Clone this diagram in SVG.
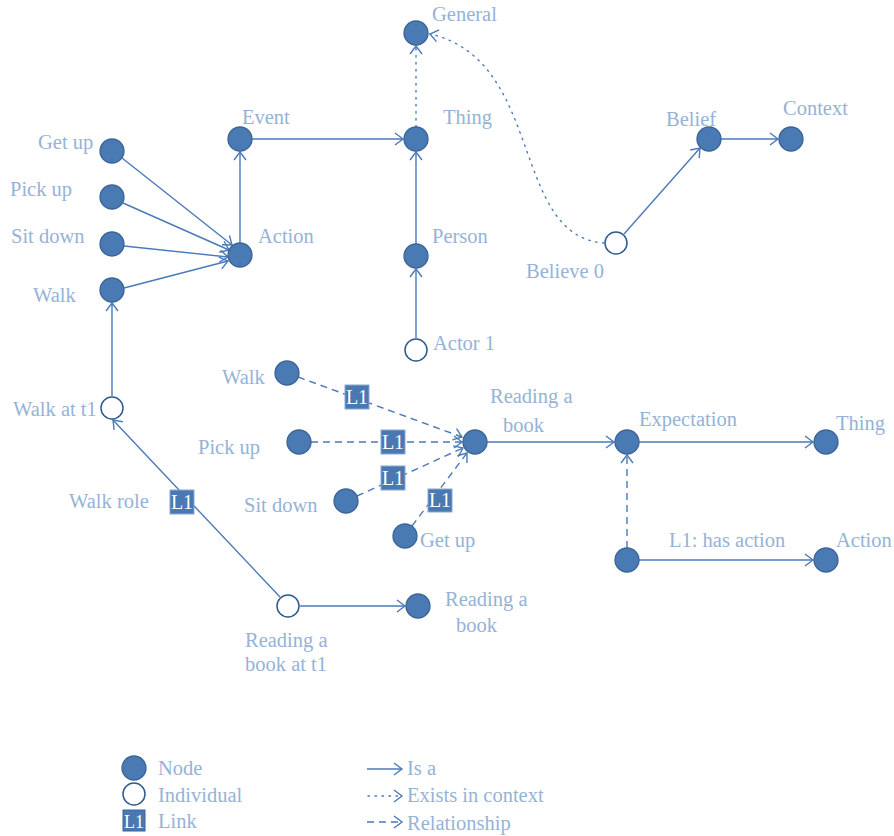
<svg xmlns="http://www.w3.org/2000/svg" width="894" height="836" viewBox="0 0 894 836">
<defs>
<style>
.n{fill:#4a7ab4;stroke:#3a6496;stroke-width:1.3}
.i{fill:#fff;stroke:#2f5b8e;stroke-width:1.5}
.t{font-family:"Liberation Serif","Times New Roman",serif;font-size:20.5px;fill:#95b3d7}
.e{fill:none;stroke:#4a7ab8;stroke-width:1.4}
.d{stroke-dasharray:7 5}
.o{stroke-dasharray:1.5 5.5;stroke-linecap:round}
.b{fill:#4a78b2;stroke:#8aa9d0;stroke-width:1}
.bt{font-family:"Liberation Serif","Times New Roman",serif;font-size:20px;fill:#fff}
</style>
<marker id="a" markerUnits="userSpaceOnUse" markerWidth="14" markerHeight="14" viewBox="0 0 14 14" refX="11" refY="7" orient="auto">
<path d="M3,1 L11,7 L3,13" fill="none" stroke="#4a7ab8" stroke-width="1.4"/>
</marker>
</defs>
<rect width="894" height="836" fill="#fff"/>

<g id="connectors">
<line class="e" x1="252" y1="139" x2="403" y2="139" marker-end="url(#a)"/>
<line class="e o" x1="416" y1="127" x2="416" y2="46" marker-end="url(#a)"/>
<path class="e o" d="M604 243 C510 236,545 60,430 34" marker-end="url(#a)"/>
<line class="e" x1="416" y1="244" x2="416" y2="152" marker-end="url(#a)"/>
<line class="e" x1="416" y1="338" x2="416" y2="269" marker-end="url(#a)"/>
<line class="e" x1="240" y1="243" x2="240" y2="152" marker-end="url(#a)"/>
<line class="e" x1="122" y1="158" x2="232" y2="245" marker-end="url(#a)"/>
<line class="e" x1="123" y1="203" x2="229" y2="250" marker-end="url(#a)"/>
<line class="e" x1="124" y1="246" x2="228" y2="257" marker-end="url(#a)"/>
<line class="e" x1="124" y1="288" x2="228" y2="261" marker-end="url(#a)"/>
<line class="e" x1="112" y1="396" x2="112" y2="303" marker-end="url(#a)"/>
<line class="e" x1="624" y1="234" x2="700" y2="148" marker-end="url(#a)"/>
<line class="e" x1="721" y1="139" x2="778" y2="139" marker-end="url(#a)"/>
<line class="e" x1="280" y1="597" x2="113" y2="420" marker-end="url(#a)"/>
<line class="e" x1="300" y1="606" x2="405" y2="606" marker-end="url(#a)"/>
<line class="e d" x1="298" y1="377" x2="462" y2="437" marker-end="url(#a)"/>
<line class="e d" x1="311" y1="442" x2="462" y2="442" marker-end="url(#a)"/>
<line class="e d" x1="357" y1="496" x2="463" y2="448" marker-end="url(#a)"/>
<line class="e d" x1="412" y1="526" x2="467" y2="453" marker-end="url(#a)"/>
<line class="e" x1="487" y1="442" x2="614" y2="442" marker-end="url(#a)"/>
<line class="e" x1="639" y1="442" x2="813" y2="442" marker-end="url(#a)"/>
<line class="e d" x1="627" y1="548" x2="627" y2="455" marker-end="url(#a)"/>
<line class="e" x1="639" y1="560" x2="813" y2="560" marker-end="url(#a)"/>
<g id="links">
<rect class="b" x="345" y="385" width="24" height="24"/><text class="bt" x="357" y="404" text-anchor="middle">L1</text>
<rect class="b" x="381" y="430" width="24" height="24"/><text class="bt" x="393" y="449" text-anchor="middle">L1</text>
<rect class="b" x="381" y="466" width="24" height="24"/><text class="bt" x="393" y="485" text-anchor="middle">L1</text>
<rect class="b" x="428" y="489" width="24" height="23"/><text class="bt" x="440" y="507" text-anchor="middle">L1</text>
<rect class="b" x="170" y="490" width="24" height="24"/><text class="bt" x="182" y="509" text-anchor="middle">L1</text>
</g>
</g>

<g id="general"><circle class="n" cx="416" cy="33" r="12"/><text class="t" x="432" y="21">General</text></g>
<g id="thing-top"><circle class="n" cx="416" cy="139" r="12"/><text class="t" x="443" y="124">Thing</text></g>
<g id="event"><circle class="n" cx="240" cy="139" r="12"/><text class="t" x="242" y="124">Event</text></g>
<g id="getup-l"><circle class="n" cx="112" cy="151" r="12"/><text class="t" x="38" y="149">Get up</text></g>
<g id="pickup-l"><circle class="n" cx="112" cy="197" r="12"/><text class="t" x="10" y="196">Pick up</text></g>
<g id="sitdown-l"><circle class="n" cx="112" cy="244" r="12"/><text class="t" x="11" y="243">Sit down</text></g>
<g id="walk-l"><circle class="n" cx="112" cy="290" r="12"/><text class="t" x="33" y="302">Walk</text></g>
<g id="action"><circle class="n" cx="240" cy="255" r="12"/><text class="t" x="258" y="243">Action</text></g>
<g id="person"><circle class="n" cx="416" cy="256" r="12"/><text class="t" x="432" y="243">Person</text></g>
<g id="actor1"><circle class="i" cx="416" cy="350" r="11"/><text class="t" x="433" y="350">Actor 1</text></g>
<g id="belief"><circle class="n" cx="709" cy="139" r="12"/><text class="t" x="666" y="126">Belief</text></g>
<g id="context"><circle class="n" cx="791" cy="139" r="12"/><text class="t" x="783" y="115">Context</text></g>
<g id="believe0"><circle class="i" cx="616" cy="243" r="11"/><text class="t" x="526" y="278">Believe 0</text></g>
<g id="walkt1"><circle class="i" cx="112" cy="408" r="11"/><text class="t" x="13" y="416">Walk at t1</text></g>
<g id="walk-m"><circle class="n" cx="287" cy="373" r="12"/><text class="t" x="222" y="384">Walk</text></g>
<g id="pickup-m"><circle class="n" cx="299" cy="442" r="12"/><text class="t" x="198" y="454">Pick up</text></g>
<g id="sitdown-m"><circle class="n" cx="346" cy="501" r="12"/><text class="t" x="244" y="512">Sit down</text></g>
<g id="getup-m"><circle class="n" cx="405" cy="536" r="12"/><text class="t" x="420" y="547">Get up</text></g>
<g id="reading"><circle class="n" cx="475" cy="442" r="12"/><text class="t" x="490" y="403">Reading a</text><text class="t" x="503" y="432">book</text></g>
<g id="expectation"><circle class="n" cx="627" cy="442" r="12"/><text class="t" x="639" y="426">Expectation</text></g>
<g id="thing-r"><circle class="n" cx="826" cy="442" r="12"/><text class="t" x="836" y="430">Thing</text></g>
<g id="hasaction"><circle class="n" cx="627" cy="560" r="12"/><text class="t" x="669" y="547">L1: has action</text></g>
<g id="action-r"><circle class="n" cx="826" cy="560" r="12"/><text class="t" x="836" y="547">Action</text></g>
<g id="readingt1"><circle class="i" cx="288" cy="606" r="11"/><text class="t" x="245" y="647">Reading a</text><text class="t" x="245" y="671">book at t1</text></g>
<g id="reading-b"><circle class="n" cx="418" cy="606" r="12"/><text class="t" x="445" y="606">Reading a</text><text class="t" x="456" y="632">book</text></g>
<text class="t" x="69" y="508">Walk role</text>

<g id="legend">
<circle class="n" cx="134" cy="768" r="12"/><text class="t" x="158" y="775">Node</text>
<circle class="i" cx="134" cy="794" r="11"/><text class="t" x="158" y="802">Individual</text>
<rect class="b" x="123" y="810" width="22" height="21" style="stroke:#3a6496"/><text class="bt" x="134" y="828" text-anchor="middle" style="font-size:18px">L1</text><text class="t" x="158" y="828">Link</text>
<line class="e" x1="367" y1="769" x2="402" y2="769" marker-end="url(#a)"/><text class="t" x="407" y="775">Is a</text>
<line class="e o" x1="368" y1="796" x2="402" y2="796" marker-end="url(#a)"/><text class="t" x="407" y="802">Exists in context</text>
<line class="e d" x1="367" y1="822" x2="402" y2="822" marker-end="url(#a)"/><text class="t" x="407" y="830">Relationship</text>
</g>
</svg>
